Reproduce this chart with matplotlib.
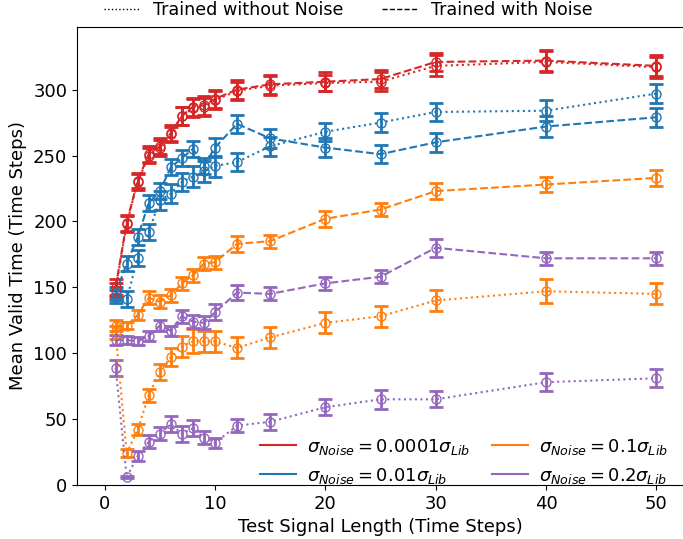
import matplotlib
matplotlib.use('Agg')
import matplotlib.pyplot as plt
from matplotlib.lines import Line2D

x = [1, 2, 3, 4, 5, 6, 7, 8, 9, 10, 12, 15, 20, 25, 30, 40, 50]

noise_labels = [r'$\sigma_{Noise} = 0.0001\sigma_{Lib}$', r'$\sigma_{Noise} = 0.01\sigma_{Lib}$',
                r'$\sigma_{Noise} = 0.1\sigma_{Lib}$', r'$\sigma_{Noise} = 0.2\sigma_{Lib}$']
colors = ['tab:red', 'tab:blue', 'tab:orange', 'tab:purple']

# trained with noise (dashed)
red_noise = [150, 199, 231, 251, 257, 267, 280, 287, 288, 293, 300, 304, 306, 308, 321, 322, 318]
blue_noise = [145, 168, 188, 214, 223, 241, 248, 255, 242, 256, 274, 263, 256, 251, 260, 272, 279]
orange_noise = [121, 121, 129, 142, 139, 144, 153, 159, 168, 169, 183, 185, 202, 209, 223, 228, 233]
purple_noise = [110, 110, 109, 113, 121, 117, 128, 124, 123, 131, 146, 145, 153, 158, 180, 172, 172]

# trained without noise (dotted)
red_clean = [148, 198, 230, 250, 256, 266, 280, 286, 287, 292, 299, 303, 305, 306, 318, 321, 317]
blue_clean = [143, 141, 172, 192, 216, 221, 230, 234, 238, 242, 245, 257, 268, 275, 283, 284, 297]
orange_clean = [116, 24, 42, 68, 86, 97, 105, 109, 109, 109, 104, 112, 123, 128, 140, 147, 145]
purple_clean = [89, 6, 22, 33, 39, 46, 39, 43, 36, 32, 45, 48, 59, 65, 65, 78, 81]

red_noise_err = [6, 6, 6, 6, 6, 6, 7, 7, 7, 7, 7, 7, 7, 7, 7, 8, 8]
blue_noise_err = [5, 6, 6, 6, 6, 6, 6, 6, 6, 7, 7, 7, 7, 7, 7, 8, 7]
orange_noise_err = [4, 3, 4, 5, 5, 5, 5, 5, 5, 5, 6, 5, 6, 5, 6, 6, 6]
purple_noise_err = [4, 3, 3, 4, 4, 4, 5, 5, 5, 6, 6, 5, 5, 5, 7, 5, 5]
red_clean_err = [5, 6, 6, 6, 6, 6, 7, 7, 7, 7, 7, 7, 6, 7, 8, 8, 8]
blue_clean_err = [5, 6, 6, 6, 7, 7, 7, 8, 8, 8, 7, 7, 7, 7, 7, 8, 7]
orange_clean_err = [5, 3, 4, 5, 6, 7, 8, 9, 8, 8, 8, 8, 8, 8, 8, 9, 8]
purple_clean_err = [6, 1, 4, 5, 5, 6, 6, 6, 5, 4, 5, 6, 6, 7, 6, 7, 7]

with_noise = [red_noise, blue_noise, orange_noise, purple_noise]
with_noise_err = [red_noise_err, blue_noise_err, orange_noise_err, purple_noise_err]
without_noise = [red_clean, blue_clean, orange_clean, purple_clean]
without_noise_err = [red_clean_err, blue_clean_err, orange_clean_err, purple_clean_err]

fig = plt.figure(figsize=(6.83, 5.39), dpi=100)
ax = fig.add_axes([77 / 683, 1 - 485 / 539, (684 - 77) / 683, (485 - 27) / 539])

for c, yv, ye in zip(colors, without_noise, without_noise_err):
    ax.errorbar(x, yv, yerr=ye, color=c, ls=':', lw=1.5, marker='o', mfc='none',
                ms=6.5, capsize=5, capthick=2, elinewidth=2)
for c, yv, ye in zip(colors, with_noise, with_noise_err):
    ax.errorbar(x, yv, yerr=ye, color=c, ls='--', lw=1.5, marker='o', mfc='none',
                ms=6.5, capsize=5, capthick=2, elinewidth=2)

ax.set_xlim(-2.5, 52.5)
ax.set_ylim(0, 347.5)
ax.tick_params(labelsize=13)
ax.set_xlabel('Test Signal Length (Time Steps)', fontsize=13)
ax.set_ylabel('Mean Valid Time (Time Steps)', fontsize=13)

color_handles = [Line2D([], [], color=c, lw=1.5) for c in colors]
ax.legend(color_handles, noise_labels, loc='lower right', ncol=2, fontsize=13,
          frameon=False, bbox_to_anchor=(1.0, -0.037), columnspacing=1.2,
          handletextpad=0.6)

style_handles = [Line2D([], [], color='k', ls=':', lw=1),
                 Line2D([], [], color='k', ls='--', lw=1)]
fig.legend(style_handles, ['Trained without Noise', 'Trained with Noise'], loc='center',
           ncol=2, fontsize=12.6, frameon=False, bbox_to_anchor=(348 / 683, 1 - 10 / 539),
           columnspacing=2.2)

fig.savefig('out.png', dpi=100)
